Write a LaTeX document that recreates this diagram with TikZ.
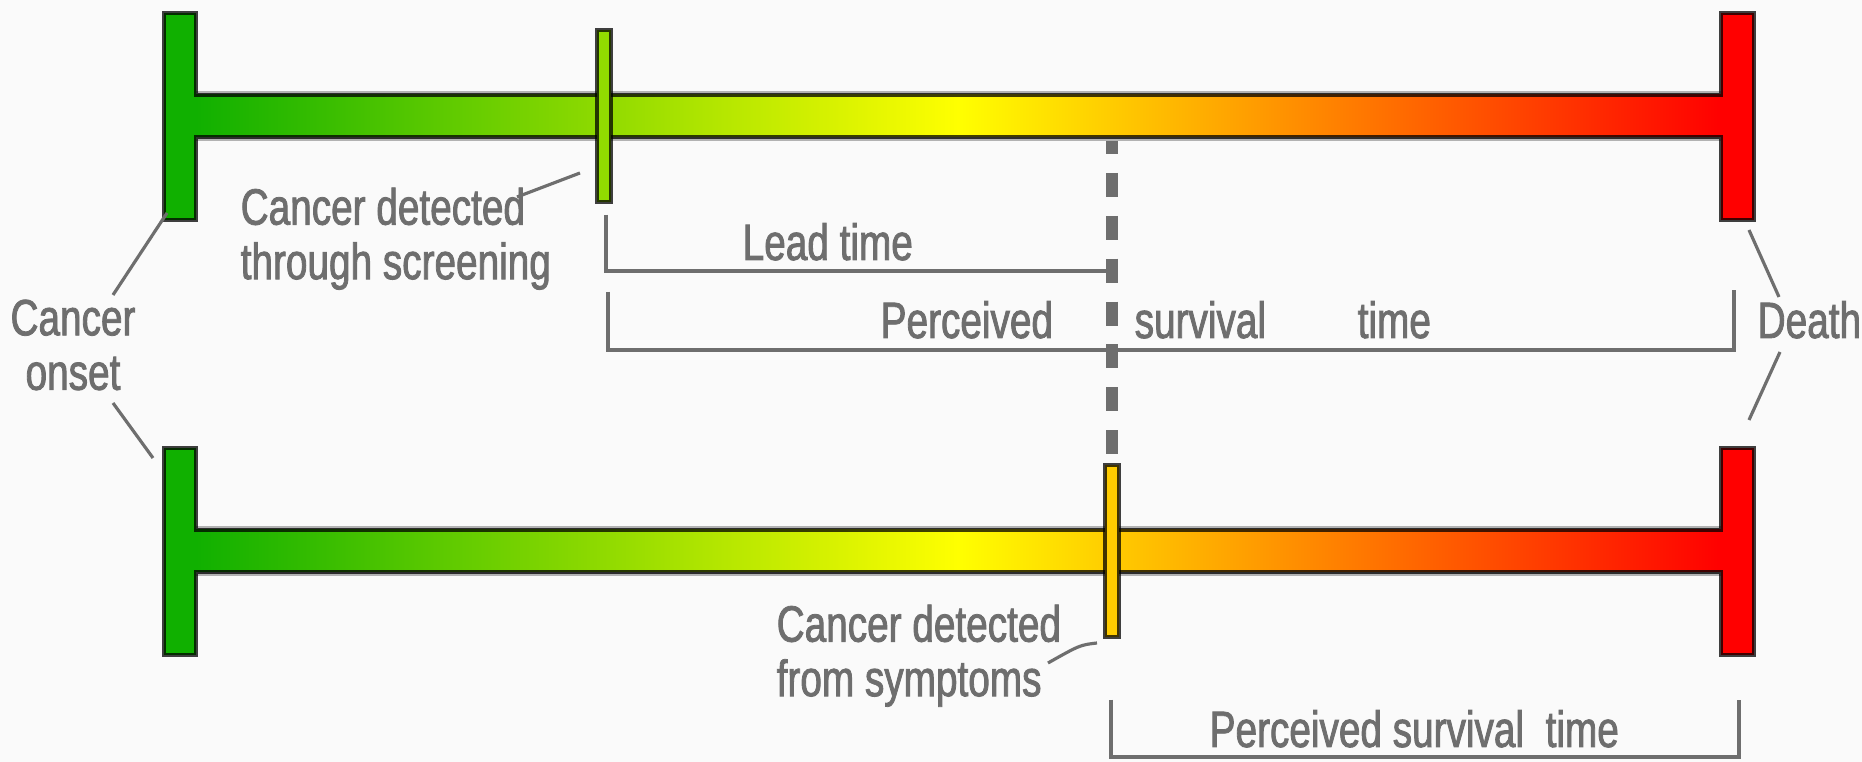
\documentclass[tikz,border=0pt]{standalone}
\usepackage{fontspec}
\setmainfont{Liberation Sans}[FakeStretch=0.76, FakeBold=1.6]
\definecolor{txtgray}{RGB}{110,110,110}
\definecolor{shadegray}{RGB}{178,178,178}
\definecolor{bggray}{RGB}{250,250,250}
\definecolor{onsetgreen}{RGB}{16,176,0}
\definecolor{deathred}{RGB}{255,0,0}
\definecolor{screenlime}{RGB}{145,219,0}
\definecolor{symptamber}{RGB}{255,204,0}
\tikzset{
  txt/.style={text=txtgray, font=\fontsize{14.5}{15.5}\selectfont, inner sep=0pt},
  leader/.style={draw=txtgray, line width=0.9pt},
  spanline/.style={draw=txtgray, line width=1.3pt},
  spanshade/.style={draw=shadegray, line width=1.3pt},
  outline/.style={draw=black, draw opacity=0.75, line width=0.9pt},
  tickbox/.style={outline, minimum width=0.14cm, minimum height=1.72cm, inner sep=0pt},
}
\begin{document}
\begin{tikzpicture}[x={(0.01cm,0)}, y={(0,-0.01cm)}]
\useasboundingbox (0,0) rectangle (1862,762);
\fill[bggray] (0,0) rectangle (1862,762);
% dashed marker at symptom detection
\coordinate (dashtop) at (1112,130);
\coordinate (dashbot) at (1112,455);
\draw[txtgray, line width=3.5pt, dash pattern=on 6.8pt off 5.4pt] (dashtop) -- (dashbot);
% the two time lines
\foreach \dy in {0,435} {
  \begin{scope}[shift={(0,\dy)}]
    \fill[shadegray] (196,91) rectangle (1721,141);
    \shade[left color=onsetgreen, right color=deathred, middle color=yellow] (196,95) rectangle (1721,137);
    \fill[onsetgreen] (164,13) rectangle (196,220);
    \fill[deathred] (1721,13) rectangle (1754,220);
    \draw[outline] (164,13) -- (196,13) -- (196,95) -- (1721,95) -- (1721,13) -- (1754,13) -- (1754,220)
      -- (1721,220) -- (1721,137) -- (196,137) -- (196,220) -- (164,220) -- cycle;
  \end{scope}
}
\node[tickbox, fill=screenlime] (screentick) at (604,116) {};
\node[tickbox, fill=symptamber] (symptick) at (1112,551) {};
% labels
\node[txt, align=center] (onset) at (73,345) {Cancer\\onset};
\node[txt, anchor=base west] (death) at (1757,338) {Death};
\node[txt, align=left, anchor=north west] (screening) at (240,187) {Cancer detected\\through screening};
\node[txt, align=left, anchor=north west] (symptoms) at (776,604) {Cancer detected\\from symptoms};
\node[txt, anchor=base west] (lead) at (742,260) {Lead time};
\node[txt, anchor=base west] (perc) at (880,338) {Perceived};
\node[txt, anchor=base west] (surv) at (1134,338) {survival};
\node[txt, anchor=base west] (time) at (1357,338) {time};
\node[txt, anchor=base west] (percsurv) at (1209,747) {Perceived survival~~time};
% leader lines
\coordinate (on1) at (167,213); \coordinate (on2) at (113,295);
\coordinate (on3) at (113,403); \coordinate (on4) at (153,458);
\coordinate (de1) at (1749,230); \coordinate (de2) at (1779,297);
\coordinate (de3) at (1780,352); \coordinate (de4) at (1749,420);
\coordinate (sc1) at (580,173); \coordinate (sc2) at (517,197);
\coordinate (sy1) at (1097,643); \coordinate (sy2) at (1048,663);
\draw[leader] (on1) -- (on2);
\draw[leader] (on3) -- (on4);
\draw[leader] (de1) -- (de2);
\draw[leader] (de3) -- (de4);
\draw[leader] (sc1) -- (sc2);
\draw[leader] (sy1) .. controls (1080,645) .. (sy2);
% spans
\coordinate (ld1) at (606,215); \coordinate (ld2) at (606,271); \coordinate (ld3) at (1112,271);
\coordinate (ps1) at (608,292); \coordinate (ps2) at (608,350); \coordinate (ps3) at (1734,350); \coordinate (ps4) at (1734,290);
\coordinate (pb1) at (1111,700); \coordinate (pb2) at (1111,757); \coordinate (pb3) at (1739,757); \coordinate (pb4) at (1739,700);
\begin{scope}[shift={(2,3)}]
\draw[spanshade] (ld1) -- (ld2) -- (ld3);
\draw[spanshade] (ps1) -- (ps2) -- (ps3) -- (ps4);
\draw[spanshade] (pb1) -- (pb2) -- (pb3) -- (pb4);
\end{scope}
\draw[spanline] (ld1) -- (ld2) -- (ld3);
\draw[spanline] (ps1) -- (ps2) -- (ps3) -- (ps4);
\draw[spanline] (pb1) -- (pb2) -- (pb3) -- (pb4);
\end{tikzpicture}
\end{document}
